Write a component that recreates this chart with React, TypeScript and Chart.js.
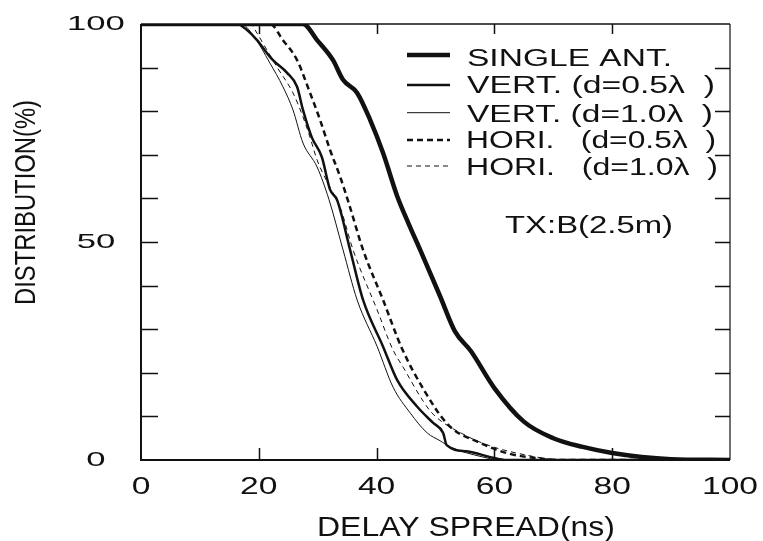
import React, { useEffect, useRef } from 'react';
import { Chart, registerables } from 'chart.js';

Chart.register(...registerables);

const FONT = "'Liberation Sans', Arial, Helvetica, sans-serif";
const INK = '#111111';

// ---- data (delay spread in ns, distribution in %) ----
const singleX = [0, 27.5, 29.9, 32.6, 34.3, 36.7, 38.9, 41.1, 43.5, 45.5, 47.4, 50.8, 53.3, 56, 60, 65, 70, 75, 80, 85, 90, 100];
const singleY = [100, 100, 96.3, 91.7, 87.2, 84.2, 78, 70.4, 60.5, 54, 48.2, 37.5, 29.5, 25, 16.5, 8.8, 5, 3, 1.6, 0.7, 0.2, 0];

const vert05X = [0, 16.3, 18, 19.7, 21.4, 22.4, 24.8, 26.5, 27.5, 29, 30.7, 32.1, 33.3, 35.5, 37.7, 41.1, 43.5, 46.9, 49.6, 51.3, 51.9, 55.3, 59.8, 62, 100];
const vert05Y = [100, 100, 98.6, 96.3, 93.3, 91.7, 88.8, 85.6, 80.3, 74, 69.5, 62, 59.6, 48.2, 36.7, 26, 18.3, 12.2, 8.5, 6.2, 3.4, 2.0, 0.5, 0, 0];

const vert10X = [0, 17, 19, 21.9, 24.1, 25.8, 27.5, 29.9, 31.9, 34.3, 36.7, 40.1, 42.8, 45.7, 48.6, 50.8, 52.5, 58, 61, 100];
const vert10Y = [100, 100, 97.5, 91, 85.6, 80.3, 72.7, 67.2, 59.8, 48.2, 36.7, 26, 16.7, 10.8, 6.2, 4.4, 3, 0.7, 0, 0];

const hori05X = [0, 21.9, 24.1, 26.5, 28.7, 30.4, 32.1, 33.8, 35.3, 37.7, 41.1, 44.3, 48.2, 52.2, 57.6, 62.1, 66.6, 72, 100];
const hori05Y = [100, 100, 96.3, 91.7, 84.2, 78, 71.1, 65, 58.8, 48.2, 36.7, 25.6, 15.7, 8, 3.9, 1.6, 0.5, 0, 0];

const hori10X = [0, 18.5, 19.7, 20.7, 23.1, 25.8, 27.5, 28.7, 29.9, 31.9, 33.8, 36, 40.1, 42.8, 44.5, 47.9, 49.6, 55.3, 59.8, 65.5, 69, 72, 100];
const hori10Y = [100, 100, 97.9, 95.6, 90.1, 84.2, 78.7, 74, 68.8, 63, 58, 48.2, 34.4, 25.2, 21.3, 13.5, 10.5, 5.5, 3, 1.1, 0.3, 0, 0];

const seriesLabels = ['SINGLE ANT.', 'VERT. (d=0.5λ  )', 'VERT. (d=1.0λ  )', 'HORI.   (d=0.5λ  )', 'HORI.   (d=1.0λ  )'];
const xTitle = 'DELAY SPREAD(ns)';
const yTitle = 'DISTRIBUTION(%)';
const noteText = 'TX:B(2.5m)';
const xMinorTicks = [20, 40, 60, 80];
const yMinorTicks = [10, 20, 30, 40, 50, 60, 70, 80, 90];

const toPoints = (xs: number[], ys: number[]) => xs.map((x, i) => ({ x, y: ys[i] }));

// draw text stretched horizontally to a given width
function drawStretched(ctx: CanvasRenderingContext2D, text: string, x: number, y: number, font: string, width: number, align: CanvasTextAlign, rot = 0) {
  ctx.save();
  ctx.font = font;
  const w = ctx.measureText(text).width;
  ctx.translate(x, y);
  if (rot) ctx.rotate(rot);
  ctx.scale(width / w, 1);
  ctx.textAlign = align;
  ctx.textBaseline = 'alphabetic';
  ctx.fillStyle = INK;
  ctx.fillText(text, 0, 0);
  ctx.restore();
}

const stretchTicksPlugin = {
  id: 'stretchTicks',
  beforeDraw(chart: any) {
    const apply = (scale: any, sx: number) => {
      if (!scale || scale.__stretch === sx) return;
      const orig = Object.getPrototypeOf(scale).drawLabels;
      scale.drawLabels = function (area: any) {
        const ctx = this.ctx;
        const baseFill = Object.getPrototypeOf(ctx).fillText;
        ctx.fillText = function (text: string, x: number, y: number) {
          this.save();
          this.translate(x, y);
          this.scale(sx, 1);
          baseFill.call(this, text, 0, 0);
          this.restore();
        };
        try {
          orig.call(this, area);
        } finally {
          delete ctx.fillText;
        }
      };
      scale.__stretch = sx;
    };
    apply(chart.scales.x, 1.4);
    apply(chart.scales.y, 1.65);
  },
};

const framePlugin = {
  id: 'frameDecor',
  afterDraw(chart: any) {
    const ctx: CanvasRenderingContext2D = chart.ctx;
    const { left, right, top, bottom } = chart.chartArea;
    const xs = chart.scales.x;
    const ys = chart.scales.y;
    ctx.save();
    ctx.strokeStyle = INK;
    ctx.setLineDash([]);
    // frame
    ctx.lineWidth = 2;
    ctx.beginPath();
    ctx.moveTo(left, top); ctx.lineTo(left, bottom); ctx.lineTo(right, bottom);
    ctx.stroke();
    ctx.lineWidth = 1.5;
    ctx.beginPath();
    ctx.moveTo(left, top); ctx.lineTo(right, top);
    ctx.stroke();
    ctx.lineWidth = 1.2;
    ctx.beginPath();
    ctx.moveTo(right, top); ctx.lineTo(right, bottom);
    ctx.stroke();
    // inward ticks
    ctx.lineWidth = 1.5;
    ctx.beginPath();
    yMinorTicks.forEach((v) => {
      const py = Math.round(ys.getPixelForValue(v)) + 0.5;
      ctx.moveTo(left, py); ctx.lineTo(left + 17, py);
      ctx.moveTo(right, py); ctx.lineTo(right - 15, py);
    });
    xMinorTicks.forEach((v) => {
      const px = Math.round(xs.getPixelForValue(v)) + 0.5;
      ctx.moveTo(px, bottom); ctx.lineTo(px, bottom - 12);
      ctx.moveTo(px, top); ctx.lineTo(px, top + 10);
    });
    ctx.stroke();

    // legend
    const rowsLine = [55, 85, 112.7, 140, 166];
    const rowsText = [66, 93.2, 121.5, 148.2, 175];
    const rights = [672, 715, 713, 716, 718];
    chart.data.datasets.forEach((ds: any, i: number) => {
      ctx.save();
      ctx.strokeStyle = INK;
      ctx.lineWidth = ds.borderWidth;
      ctx.setLineDash(ds.borderDash || []);
      ctx.beginPath();
      ctx.moveTo(407, rowsLine[i]);
      ctx.lineTo(450, rowsLine[i]);
      ctx.stroke();
      ctx.restore();
      const left0 = i >= 3 ? 466 : 467;
      drawStretched(ctx, ds.label, left0, rowsText[i], `23px ${FONT}`, rights[i] - left0, 'left');
    });
    drawStretched(ctx, noteText, 505, 233.2, `23px ${FONT}`, 168, 'left');

    // axis titles
    drawStretched(ctx, xTitle, 466, 536, `28px ${FONT}`, 298, 'center');
    drawStretched(ctx, yTitle, 34.6, 202.5, `29px ${FONT}`, 205, 'center', -Math.PI / 2);
    ctx.restore();
  },
};

export default function App() {
  const canvasRef = useRef<HTMLCanvasElement | null>(null);

  useEffect(() => {
    const canvas = canvasRef.current;
    if (!canvas) return;
    const common = { pointRadius: 0, pointHoverRadius: 0, fill: false, borderColor: INK, cubicInterpolationMode: 'monotone' as const };
    const chart = new Chart(canvas, {
      type: 'line',
      data: {
        datasets: [
          { ...common, label: seriesLabels[0], data: toPoints(singleX, singleY), borderWidth: 4.5 },
          { ...common, label: seriesLabels[1], data: toPoints(vert05X, vert05Y), borderWidth: 2.5 },
          { ...common, label: seriesLabels[2], data: toPoints(vert10X, vert10Y), borderWidth: 1 },
          { ...common, label: seriesLabels[3], data: toPoints(hori05X, hori05Y), borderWidth: 2.5, borderDash: [6, 4] },
          { ...common, label: seriesLabels[4], data: toPoints(hori10X, hori10Y), borderWidth: 1, borderDash: [5, 4] },
        ],
      },
      options: {
        responsive: false,
        devicePixelRatio: 1,
        animation: false,
        events: [],
        layout: { padding: { top: 24, right: 33, left: 0, bottom: 0 } },
        plugins: {
          legend: { display: false },
          tooltip: { enabled: false },
          title: { display: false },
        },
        scales: {
          x: {
            type: 'linear',
            min: 0,
            max: 100,
            grid: { display: false, drawTicks: false },
            border: { display: false },
            ticks: { stepSize: 20, color: INK, font: { family: FONT, size: 24 }, padding: 13, maxRotation: 0 },
            afterFit: (scale: any) => {
              scale.height = 81;
              scale.paddingLeft = 0;
              scale.paddingRight = 0;
            },
          },
          y: {
            type: 'linear',
            min: 0,
            max: 100,
            grid: { display: false, drawTicks: false },
            border: { display: false },
            ticks: { stepSize: 50, color: INK, font: { family: FONT, size: 21 }, padding: 27.5, crossAlign: 'center' },
            afterFit: (scale: any) => {
              scale.width = 141;
              scale.paddingTop = 0;
              scale.paddingBottom = 0;
            },
          },
        },
      } as any,
      plugins: [stretchTicksPlugin, framePlugin],
    });
    return () => chart.destroy();
  }, []);

  return (
    <div style={{ position: 'absolute', left: 0, top: 0, width: 763, height: 541, background: '#fff' }}>
      <canvas ref={canvasRef} width={763} height={541} style={{ display: 'block', width: 763, height: 541 }} />
    </div>
  );
}
